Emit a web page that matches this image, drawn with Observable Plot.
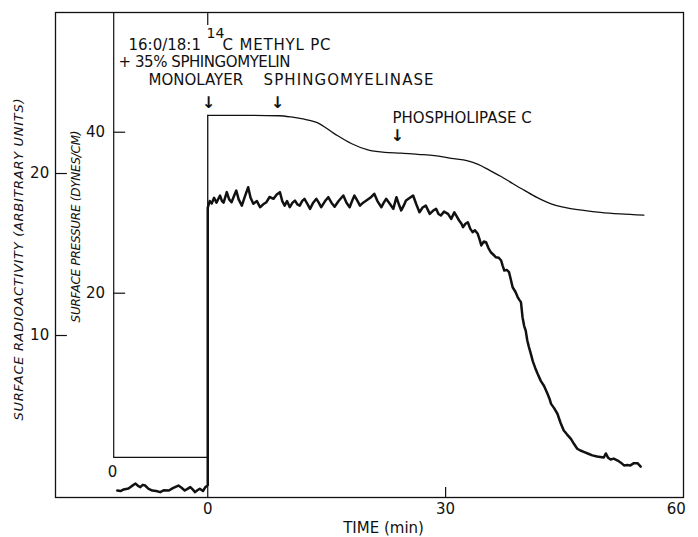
<!DOCTYPE html>
<html>
<head>
<meta charset="utf-8">
<script src="https://cdn.jsdelivr.net/npm/d3@7"></script>
<script src="https://cdn.jsdelivr.net/npm/@observablehq/plot@0.6"></script>
<style>
  html, body { margin: 0; padding: 0; background: #fff; }
  #chart { width: 698px; height: 537px; }
</style>
</head>
<body>
<div id="chart"></div>
<script>
// ---- data ----
// surface radioactivity trace (arbitrary units) vs time (min)
const radioTime = [
  -11.4, -11.0, -10.6, -10.0, -9.6, -9.1, -8.8, -8.5, -8.2, -7.9, -7.5, -7.0, -6.5, -6.0, -5.5, -4.9, -4.4, -3.7, -3.3, -2.9, -2.5, -2.2, -1.9, -1.6, -1.3, -1.0, -0.6, -0.3, 0.0,
  0.0, 0.25, 0.5, 0.8, 1.1, 1.55, 1.8, 2.0, 2.4, 2.7, 3.0, 3.3, 3.6, 3.9, 4.3, 4.7, 5.1, 5.4, 5.75, 6.2, 6.6, 7.0, 7.4, 7.8, 8.3, 8.7, 9.1, 9.4, 9.7, 10.0,
  10.35, 10.7, 11.0, 11.3, 11.6, 11.9, 12.2, 12.6, 12.9, 13.3, 13.7, 14.0, 14.3, 14.8, 15.2, 15.6, 16.0, 16.5, 17.1, 17.5, 17.9, 18.2, 18.5, 18.9, 19.2, 19.6, 20.0,
  20.5, 21.0, 21.4, 21.9, 22.2, 22.5, 23.0, 23.4, 23.8, 24.1, 24.4, 24.7, 25.0, 25.5, 25.9, 26.3, 26.7, 27.1, 27.5, 28.0, 28.4, 28.8, 29.1, 29.4, 29.8, 30.3,
  30.7, 31.1, 31.4, 31.7, 32.0, 32.2, 32.5, 32.8, 33.1, 33.4, 33.7, 34.05, 34.3, 34.5, 34.8, 35.1, 35.4, 35.7, 36.0, 36.35, 36.7, 37.0, 37.2, 37.4, 37.7, 38.0,
  38.2, 38.45, 38.8, 39.1, 39.3, 39.5, 39.7, 39.9, 40.1, 40.3, 40.5, 40.75, 41.0, 41.3, 41.6, 42.0, 42.4, 42.85, 43.1, 43.3, 43.7, 44.1, 44.5, 44.9, 45.3, 45.8,
  46.2, 46.6, 47.0, 47.5, 48.0, 48.5, 49.1, 49.5, 49.95, 50.2, 50.5, 50.8, 51.2, 51.7, 52.1, 52.5, 52.9, 53.3, 53.75, 54.2, 54.6
];
const radioValue = [
  0.43, 0.40, 0.50, 0.55, 0.70, 0.86, 0.72, 0.64, 0.78, 0.74, 0.55, 0.43, 0.40, 0.33, 0.45, 0.43, 0.58, 0.74, 0.60, 0.43, 0.55, 0.64, 0.50, 0.33, 0.45, 0.54, 0.40, 0.64, 0.74,
  17.9, 18.3, 18.15, 18.5, 18.2, 18.64, 18.3, 18.2, 18.85, 18.4, 18.23, 18.6, 18.95, 18.4, 18.02, 18.6, 19.15, 18.5, 18.13, 18.3, 17.92, 18.1, 18.23, 18.55, 18.44, 18.7, 18.85, 18.3, 18.02, 18.3,
  17.92, 18.2, 18.33, 18.1, 18.02, 18.3, 18.44, 18.1, 17.82, 18.2, 18.44, 18.2, 17.92, 18.3, 18.54, 18.2, 17.95, 18.3, 18.64, 18.2, 17.92, 18.3, 18.64, 18.3, 18.02, 18.2, 18.33,
  18.5, 18.75, 18.3, 17.92, 18.2, 18.44, 18.1, 17.82, 18.54, 18.1, 17.72, 18.0, 18.33, 18.5, 18.64, 18.1, 17.61, 17.9, 18.02, 17.51, 17.7, 17.82, 17.5, 17.41, 17.65, 17.51,
  17.2, 17.6, 17.35, 17.1, 16.9, 16.69, 16.9, 16.99, 16.6, 16.38, 16.5, 16.28, 15.9, 15.56, 15.8, 15.76, 15.4, 15.14, 15.0, 14.83, 14.8, 14.63, 14.3, 14.01, 14.05, 13.91,
  13.5, 12.98, 12.7, 12.36, 12.2, 12.06, 11.13, 10.6, 10.3, 9.69, 9.3, 8.87, 8.4, 8.0, 7.64, 7.2, 6.9, 6.40, 6.1, 5.78, 5.5, 5.17, 4.6, 4.14, 3.9, 3.62,
  3.3, 3.01, 2.9, 2.80, 2.7, 2.6, 2.53, 2.5, 2.47, 2.72, 2.45, 2.35, 2.4, 2.28, 2.15, 1.98, 2.0, 1.98, 2.12, 2.12, 1.91
];
// surface pressure (dynes/cm) vs time (min)
const pressureTime  = [-11.86, 0, 0, 5, 9, 10.5, 12, 13.8, 16, 18.1, 20.2, 22.3, 24.4, 26.5, 28.6, 30.7, 32.8, 34.1, 35.5, 37, 38.5, 39.9, 41.5, 43.3, 45.3, 47.4, 49.5, 52, 55];
const pressureValue = [-0.4, -0.4, 42.1, 42.1, 42.05, 41.9, 41.65, 41.2, 39.8, 38.6, 37.8, 37.5, 37.4, 37.25, 37.1, 36.75, 36.45, 36.0, 35.3, 34.5, 33.6, 32.8, 31.9, 31.1, 30.6, 30.3, 30.05, 29.85, 29.7];

const timeTicks = [0, 30, 60];
const timeTickLabels = ["0", "30", "60"];
const radioTicks = [10, 20];
const radioTickLabels = ["10", "20"];
const pressureTicks = [20, 40];
const pressureTickLabels = ["20", "40"];

const eventNames = ["MONOLAYER", "SPHINGOMYELINASE", "PHOSPHOLIPASE C"];
const eventTimes = [0.1, 8.8, 23.9];

// ---- build ----
const ink = "#111";
// secondary axis: pressure -> radioactivity units (pressure 0 and 40 positions)
const pToR = p => 2.673 + 0.4969 * p;

const radio = radioTime.map((t, i) => ({t, r: radioValue[i]}));
const pressure = pressureTime.map((t, i) => ({t, r: pToR(pressureValue[i])}));

const font = "DejaVu Sans, sans-serif";
const txt = {fill: ink, fontFamily: font, stroke: null};

const chart = Plot.plot({
  width: 698,
  height: 537,
  marginLeft: 55,
  marginRight: 15,
  marginTop: 12,
  marginBottom: 40,
  style: {background: "#fff", fontFamily: font, color: ink, overflow: "visible"},
  x: {domain: [-19.2, 60], axis: null},
  y: {domain: [0, 29.94], axis: null},
  marks: [
    Plot.frame({stroke: ink, strokeWidth: 1.3}),
    // inner pressure axis line
    Plot.ruleX([pressureTime[0]], {y1: pToR(pressureValue[0]), y2: 29.94, stroke: ink, strokeWidth: 1.2}),
    // radioactivity ticks (inward)
    Plot.ruleY(radioTicks, {x1: -19.2, x2: -17.7, stroke: ink, strokeWidth: 1.2}),
    // pressure ticks
    Plot.ruleY(pressureTicks.map(pToR), {x1: pressureTime[0], x2: -10.35, stroke: ink, strokeWidth: 1.2}),
    // time ticks
    Plot.ruleX(timeTicks.slice(0, 2), {y1: 0, y2: 0.62, stroke: ink, strokeWidth: 1.2}),
    Plot.ruleX([0], {y1: 29.14, y2: 29.94, stroke: ink, strokeWidth: 1.2}),
    // pressure curve
    Plot.line(pressure.slice(0, 3), {x: "t", y: "r", stroke: ink, strokeWidth: 1.3}),
    Plot.line(pressure.slice(2), {x: "t", y: "r", stroke: ink, strokeWidth: 1.3, curve: "monotone-x"}),
    // radioactivity trace
    Plot.line(radio, {x: "t", y: "r", stroke: ink, strokeWidth: 2.5, strokeLinejoin: "round"}),
    // tick labels
    Plot.text(timeTicks, {x: (d, i) => i === 2 ? 59.1 : d, y: -0.74, text: (d, i) => timeTickLabels[i], fontSize: 15, ...txt}),
    Plot.text(radioTicks, {x: -21.2, y: d => d, text: (d, i) => radioTickLabels[i], fontSize: 15, ...txt}),
    Plot.text(pressureTicks, {x: -14.15, y: d => pToR(d), text: (d, i) => pressureTickLabels[i], fontSize: 15, ...txt}),
    Plot.text(["0"], {x: -12.0, y: 1.54, fontSize: 15, ...txt}),
    // axis titles
    Plot.text(["TIME (min)"], {x: 22.17, y: -1.9, fontSize: 15, ...txt}),
    Plot.text(["SURFACE RADIOACTIVITY (ARBITRARY UNITS)"], {x: -23.85, y: 14.69, rotate: -90, fontSize: 13, fontStyle: "italic", className: "radlab", ...txt}),
    Plot.text(["SURFACE PRESSURE (DYNES/CM)"], {x: -16.54, y: 16.73, rotate: -90, fontSize: 12, fontStyle: "italic", className: "preslab", ...txt}),
    // annotations
    Plot.text(["16:0/18:1"], {x: -9.99, y: 27.9, textAnchor: "start", fontSize: 15, ...txt}),
    Plot.text(["14"], {x: 0.98, y: 28.64, fontSize: 14, ...txt}),
    Plot.text(["C METHYL PC"], {x: 1.87, y: 27.9, textAnchor: "start", fontSize: 15, className: "methyl", ...txt}),
    Plot.text(["+ 35% SPHINGOMYELIN"], {x: -11.25, y: 26.85, textAnchor: "start", fontSize: 15, className: "sph", ...txt}),
    Plot.text([eventNames[0]], {x: -7.47, y: 25.74, textAnchor: "start", fontSize: 15, ...txt}),
    Plot.text([eventNames[1]], {x: 7.04, y: 25.74, textAnchor: "start", fontSize: 15, className: "smase", ...txt}),
    Plot.text([eventNames[2]], {x: 23.3, y: 23.4, textAnchor: "start", fontSize: 15, ...txt}),
    Plot.text(eventTimes, {x: d => d, y: (d, i) => i === 2 ? 22.35 : 24.38, text: () => "↓", fontSize: 16, fontWeight: "bold", ...txt})
  ]
});

document.getElementById("chart").appendChild(chart);
// stretch titles to the lengths measured on the reference
const fit = (cls, len) => d3.select(chart).selectAll("." + cls + " text").attr("textLength", len).attr("lengthAdjust", "spacing");
fit("radlab", 322);
fit("preslab", 192);
fit("methyl", 108);
fit("smase", 170);
fit("sph", 172);
</script>
</body>
</html>
